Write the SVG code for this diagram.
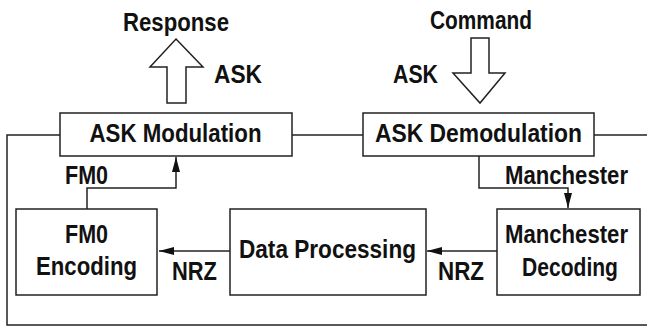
<svg xmlns="http://www.w3.org/2000/svg" width="647" height="327" viewBox="0 0 647 327">
<style>
.box{fill:#fff;stroke:#222;stroke-width:1.5}
.ln{fill:none;stroke:#222;stroke-width:1.5}
.big{fill:#fff;stroke:#222;stroke-width:1.5;stroke-linejoin:miter}
text{font-family:"Liberation Sans",Arial,sans-serif;font-weight:bold;font-size:25px;fill:#111;text-anchor:middle}
</style>
<defs>
<marker id="ah" markerUnits="userSpaceOnUse" markerWidth="15" markerHeight="8" refX="15" refY="4" orient="auto">
<path d="M0,0 L15,4 L0,8 z" fill="#111"/>
</marker>
</defs>
<rect width="647" height="327" fill="#fff"/>
<g id="connectors">
<path class="ln" d="M60,135 H7 V325 H647"/>
<path class="ln" d="M292,135 H363"/>
<path class="ln" d="M594,135 H647"/>
<path class="ln" d="M479,156 V188 H568 V208" marker-end="url(#ah)"/>
<path class="ln" d="M87,209 V188 H176 V157" marker-end="url(#ah)"/>
<path class="ln" d="M497,251 H427" marker-end="url(#ah)"/>
<path class="ln" d="M230,251 H159" marker-end="url(#ah)"/>
</g>
<g id="response-arrow">
<path class="big" d="M176,39 L203,67 H186 V103 H167 V67 H150 Z"/>
<text x="176" y="31" textLength="106" lengthAdjust="spacingAndGlyphs">Response</text>
<text x="238" y="83" textLength="48" lengthAdjust="spacingAndGlyphs">ASK</text>
</g>
<g id="command-arrow">
<path class="big" d="M471,38 H489 V73 H505 L480,103 L453,73 H471 Z"/>
<text x="481" y="29" textLength="102" lengthAdjust="spacingAndGlyphs">Command</text>
<text x="415.5" y="83" textLength="45" lengthAdjust="spacingAndGlyphs">ASK</text>
</g>
<g id="ask-modulation">
<rect class="box" x="60" y="113" width="232" height="43"/>
<text x="175.5" y="142" textLength="172" lengthAdjust="spacingAndGlyphs">ASK Modulation</text>
</g>
<g id="ask-demodulation">
<rect class="box" x="363" y="113" width="231" height="43"/>
<text x="478.5" y="142" textLength="207" lengthAdjust="spacingAndGlyphs">ASK Demodulation</text>
</g>
<g id="fm0-encoding">
<rect class="box" x="16" y="209" width="141" height="86"/>
<text x="86.5" y="243" textLength="43" lengthAdjust="spacingAndGlyphs">FM0</text>
<text x="86.5" y="275" textLength="101" lengthAdjust="spacingAndGlyphs">Encoding</text>
</g>
<g id="data-processing">
<rect class="box" x="230" y="209" width="196" height="86"/>
<text x="327.5" y="258" textLength="177" lengthAdjust="spacingAndGlyphs">Data Processing</text>
</g>
<g id="manchester-decoding">
<rect class="box" x="497" y="209" width="143" height="86"/>
<text x="566.5" y="243" textLength="123" lengthAdjust="spacingAndGlyphs">Manchester</text>
<text x="570" y="276" textLength="96" lengthAdjust="spacingAndGlyphs">Decoding</text>
</g>
<g id="labels">
<text x="86.5" y="184" textLength="43" lengthAdjust="spacingAndGlyphs">FM0</text>
<text x="566.5" y="184" textLength="123" lengthAdjust="spacingAndGlyphs">Manchester</text>
<text x="194.5" y="280" textLength="45" lengthAdjust="spacingAndGlyphs">NRZ</text>
<text x="461" y="280" textLength="46" lengthAdjust="spacingAndGlyphs">NRZ</text>
</g>
</svg>
